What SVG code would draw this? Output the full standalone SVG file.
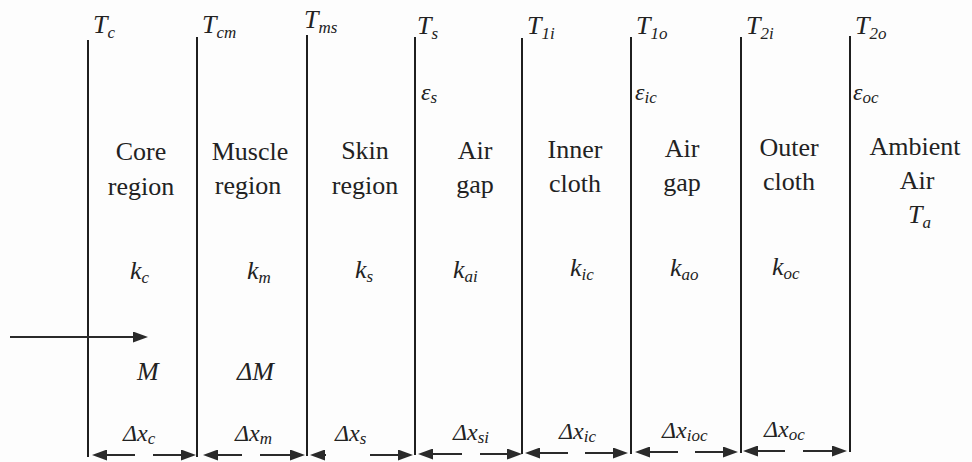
<svg xmlns="http://www.w3.org/2000/svg" width="972" height="462" viewBox="0 0 972 462">
<defs>
<style>
.bg{fill:#fdfdfd}
.bd{stroke:#1f1f1f;stroke-width:2;fill:none}
.ar{stroke:#2a2a2a;stroke-width:2;fill:none;marker-end:url(#ah)}
.t{fill:#222;font-size:26px}
.v{font-style:italic}
.s{font-size:17px}
.d{font-size:24px}
.m{text-anchor:middle}
</style>
<marker id="ah" viewBox="0 0 15 11" refX="12" refY="5.5" markerWidth="15" markerHeight="11" markerUnits="userSpaceOnUse" orient="auto">
<path d="M0,0 L15,5.5 L0,11 z" fill="#2a2a2a"/>
</marker>
</defs>
<rect class="bg" x="0" y="0" width="972" height="462"/>

<g id="boundaries">
<line class="bd" x1="88" y1="40" x2="88" y2="457"/>
<line class="bd" x1="197" y1="37" x2="197" y2="457"/>
<line class="bd" x1="307" y1="35" x2="307" y2="456"/>
<line class="bd" x1="415" y1="37" x2="415" y2="455"/>
<line class="bd" x1="522" y1="38" x2="522" y2="454"/>
<line class="bd" x1="631" y1="37" x2="631" y2="454"/>
<line class="bd" x1="741" y1="37" x2="741" y2="453"/>
<line class="bd" x1="850" y1="36" x2="850" y2="452"/>
</g>

<g class="t">
<g id="interface-labels" class="v">
<text font-family="Times New Roman" x="93" y="33">T<tspan class="s" dy="5">c</tspan></text>
<text font-family="Times New Roman" x="202" y="33">T<tspan class="s" dy="5">cm</tspan></text>
<text font-family="Times New Roman" x="304" y="28">T<tspan class="s" dy="5">ms</tspan></text>
<text font-family="Times New Roman" x="417" y="34">T<tspan class="s" dy="5">s</tspan></text>
<text font-family="Times New Roman" x="527" y="34">T<tspan class="s" dy="5">1i</tspan></text>
<text font-family="Times New Roman" x="636" y="34">T<tspan class="s" dy="5">1o</tspan></text>
<text font-family="Times New Roman" x="746" y="34">T<tspan class="s" dy="5">2i</tspan></text>
<text font-family="Times New Roman" x="855" y="34">T<tspan class="s" dy="5">2o</tspan></text>
<text font-family="Times New Roman" class="d" x="421" y="100">ε<tspan class="s" dy="3">s</tspan></text>
<text font-family="Times New Roman" class="d" x="635" y="100">ε<tspan class="s" dy="3">ic</tspan></text>
<text font-family="Times New Roman" class="d" x="853" y="100">ε<tspan class="s" dy="3">oc</tspan></text>
</g>

<g id="core">
<text font-family="Times New Roman" class="m" x="141" y="160">Core</text>
<text font-family="Times New Roman" class="m" x="141" y="195">region</text>
<text font-family="Times New Roman" class="v" x="130" y="279">k<tspan class="s" dy="4">c</tspan></text>
<text font-family="Times New Roman" class="v" x="137" y="380">M</text>
<text font-family="Times New Roman" class="v d" x="123" y="441">Δx<tspan class="s" dy="3">c</tspan></text>
</g>

<g id="muscle">
<text font-family="Times New Roman" class="m" x="250" y="160">Muscle</text>
<text font-family="Times New Roman" class="m" x="248" y="194">region</text>
<text font-family="Times New Roman" class="v" x="247" y="279">k<tspan class="s" dy="4">m</tspan></text>
<text font-family="Times New Roman" class="v" x="237" y="380">ΔM</text>
<text font-family="Times New Roman" class="v d" x="235" y="441">Δx<tspan class="s" dy="3">m</tspan></text>
</g>

<g id="skin">
<text font-family="Times New Roman" class="m" x="365" y="159">Skin</text>
<text font-family="Times New Roman" class="m" x="365" y="194">region</text>
<text font-family="Times New Roman" class="v" x="355" y="278">k<tspan class="s" dy="4">s</tspan></text>
<text font-family="Times New Roman" class="v d" x="335" y="441">Δx<tspan class="s" dy="3">s</tspan></text>
</g>

<g id="inner-air-gap">
<text font-family="Times New Roman" class="m" x="475" y="159">Air</text>
<text font-family="Times New Roman" class="m" x="475" y="193">gap</text>
<text font-family="Times New Roman" class="v" x="453" y="278">k<tspan class="s" dy="4">ai</tspan></text>
<text font-family="Times New Roman" class="v d" x="453" y="440">Δx<tspan class="s" dy="3">si</tspan></text>
</g>

<g id="inner-cloth">
<text font-family="Times New Roman" class="m" x="575" y="158">Inner</text>
<text font-family="Times New Roman" class="m" x="575" y="192">cloth</text>
<text font-family="Times New Roman" class="v" x="570" y="276">k<tspan class="s" dy="4">ic</tspan></text>
<text font-family="Times New Roman" class="v d" x="559" y="439">Δx<tspan class="s" dy="3">ic</tspan></text>
</g>

<g id="outer-air-gap">
<text font-family="Times New Roman" class="m" x="682" y="157">Air</text>
<text font-family="Times New Roman" class="m" x="682" y="191">gap</text>
<text font-family="Times New Roman" class="v" x="670" y="276">k<tspan class="s" dy="4">ao</tspan></text>
<text font-family="Times New Roman" class="v d" x="662" y="438">Δx<tspan class="s" dy="3">ioc</tspan></text>
</g>

<g id="outer-cloth">
<text font-family="Times New Roman" class="m" x="789" y="156">Outer</text>
<text font-family="Times New Roman" class="m" x="789" y="190">cloth</text>
<text font-family="Times New Roman" class="v" x="772" y="275">k<tspan class="s" dy="4">oc</tspan></text>
<text font-family="Times New Roman" class="v d" x="764" y="437">Δx<tspan class="s" dy="3">oc</tspan></text>
</g>

<g id="ambient-air">
<text font-family="Times New Roman" class="m" x="915" y="155">Ambient</text>
<text font-family="Times New Roman" class="m" x="917" y="189">Air</text>
<text font-family="Times New Roman" class="v" x="908" y="223">T<tspan class="s" dy="5">a</tspan></text>
</g>
</g>

<g id="connectors">
<line class="ar" x1="10" y1="337" x2="145" y2="337"/>
<line class="ar" x1="135" y1="455" x2="95" y2="455"/>
<line class="ar" x1="153" y1="455" x2="193" y2="455"/>
<line class="ar" x1="242" y1="455" x2="206" y2="455"/>
<line class="ar" x1="260" y1="455" x2="302" y2="455"/>
<line class="ar" x1="326" y1="455" x2="313" y2="455"/>
<line class="ar" x1="370" y1="455" x2="410" y2="455"/>
<line class="ar" x1="462" y1="454" x2="421" y2="454"/>
<line class="ar" x1="480" y1="454" x2="519" y2="454"/>
<line class="ar" x1="568" y1="453" x2="528" y2="453"/>
<line class="ar" x1="585" y1="453" x2="625" y2="453"/>
<line class="ar" x1="678" y1="452" x2="638" y2="452"/>
<line class="ar" x1="695" y1="452" x2="735" y2="452"/>
<line class="ar" x1="785" y1="451" x2="746" y2="451"/>
<line class="ar" x1="803" y1="451" x2="844" y2="451"/>
</g>
</svg>
